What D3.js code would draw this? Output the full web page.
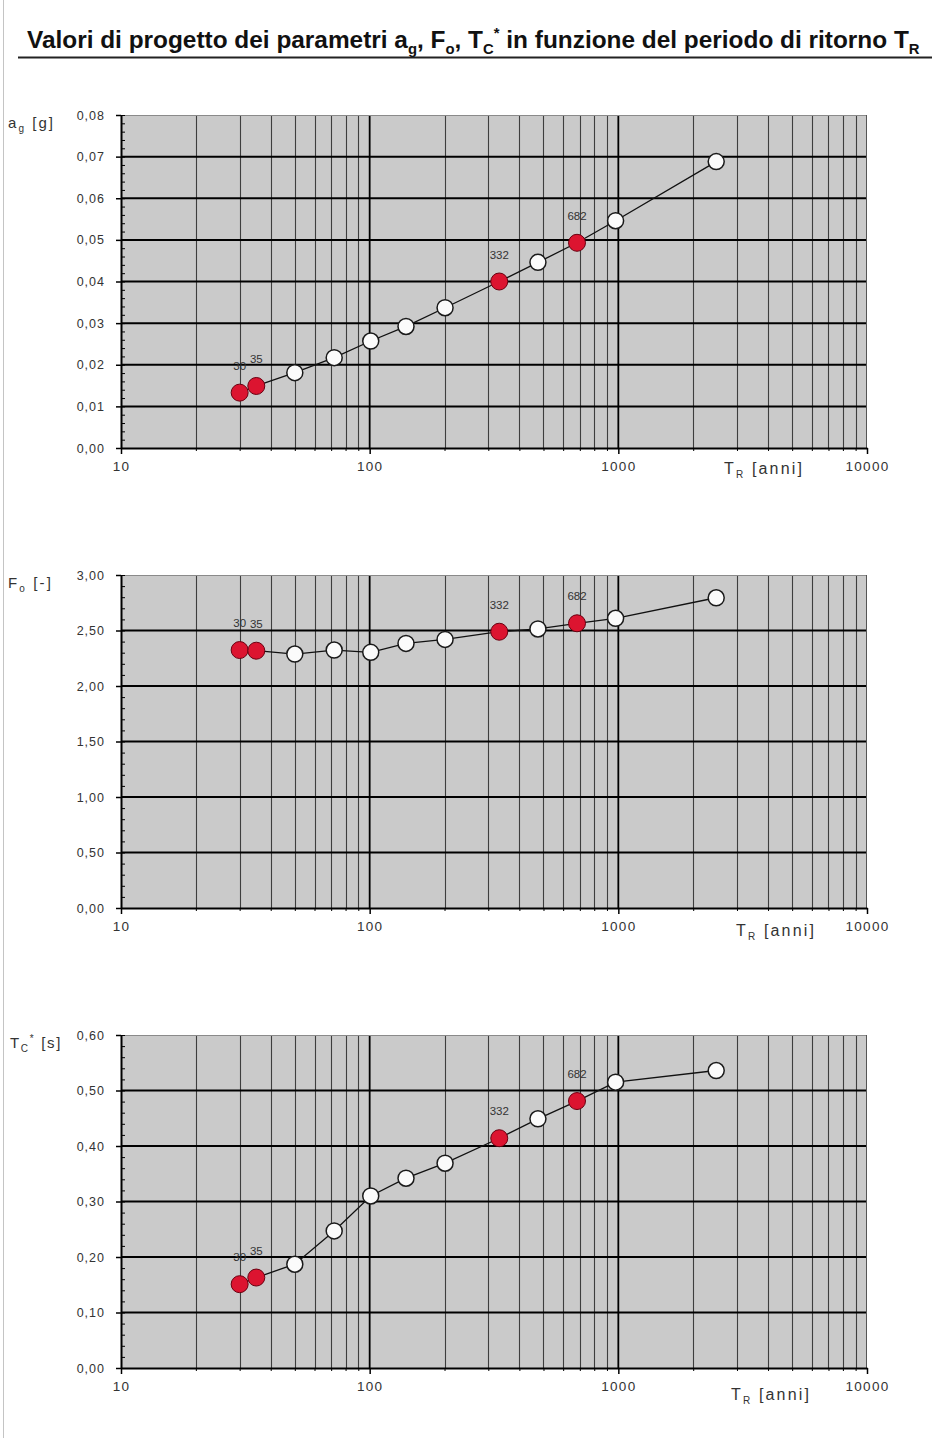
<!DOCTYPE html>
<html><head><meta charset="utf-8">
<script src="https://cdn.jsdelivr.net/npm/d3@7"></script>
<style>body{margin:0;background:#fff}svg{display:block}</style>
</head><body>
<script>
// ---- data ----
const returnPeriods = [30, 35, 50, 72, 101, 140, 201, 332, 475, 682, 975, 2475];
const agValues = [0.0133, 0.0149, 0.0181, 0.0217, 0.0257, 0.0292, 0.0337, 0.0400, 0.0446, 0.0493, 0.0546, 0.0688];
const foValues = [2.324, 2.318, 2.288, 2.324, 2.303, 2.384, 2.420, 2.489, 2.514, 2.565, 2.610, 2.795];
const tcValues = [0.151, 0.163, 0.187, 0.247, 0.310, 0.342, 0.369, 0.414, 0.449, 0.481, 0.515, 0.536];
const highlighted = [30, 35, 332, 682];
const xTickValues = [10, 100, 1000, 10000];
const xTickLabels = ["10", "100", "1000", "10000"];
const agTickValues = [0, 0.01, 0.02, 0.03, 0.04, 0.05, 0.06, 0.07, 0.08];
const agTickLabels = ["0,00", "0,01", "0,02", "0,03", "0,04", "0,05", "0,06", "0,07", "0,08"];
const foTickValues = [0, 0.5, 1, 1.5, 2, 2.5, 3];
const foTickLabels = ["0,00", "0,50", "1,00", "1,50", "2,00", "2,50", "3,00"];
const tcTickValues = [0, 0.1, 0.2, 0.3, 0.4, 0.5, 0.6];
const tcTickLabels = ["0,00", "0,10", "0,20", "0,30", "0,40", "0,50", "0,60"];

const W = 952, H = 1438;
const FONT = "'Liberation Sans', Arial, sans-serif";
const svg = d3.select("body").append("svg").attr("width", W).attr("height", H);
svg.append("rect").attr("width", W).attr("height", H).attr("fill", "#fff");
svg.append("line").attr("x1", 3.5).attr("x2", 3.5).attr("y1", 0).attr("y2", H)
  .attr("stroke", "#c4c4c4").attr("stroke-width", 1);

function addPieces(t, pieces, subSize, base) {
  let shift = 0;
  pieces.forEach(p => {
    const target = p.k === "sub" ? base * 0.28 : p.k === "sup" ? -base * 0.42 : 0;
    const ts = t.append("tspan").text(p.s).attr("dy", target - shift);
    if (p.k) ts.attr("font-size", subSize);
    shift = target;
  });
}
function fitSpacing(t, target) {
  const w = t.node().getComputedTextLength();
  const n = t.text().length;
  t.style("letter-spacing", ((target - w) / n) + "px");
}
function fitScale(t, x0, target) {
  const w = t.node().getComputedTextLength();
  t.attr("transform", `translate(${x0},0) scale(${target / w},1) translate(${-x0},0)`);
}

// ---- title ----
const title = svg.append("text").attr("x", 27).attr("y", 48)
  .attr("font-family", "'Liberation Sans Narrow', 'Liberation Sans', Arial, sans-serif")
  .attr("font-weight", "bold").attr("font-size", 23).attr("fill", "#111");
addPieces(title, [
  {s: "Valori di progetto dei parametri a"}, {s: "g", k: "sub"}, {s: ", F"}, {s: "o", k: "sub"},
  {s: ", T"}, {s: "C", k: "sub"}, {s: "*", k: "sup"}, {s: " in funzione del periodo di ritorno T"},
  {s: "R", k: "sub"}
], 14, 23);
fitScale(title, 27, 893);
svg.append("line").attr("x1", 18).attr("x2", 932).attr("y1", 57.5).attr("y2", 57.5)
  .attr("stroke", "#222").attr("stroke-width", 2);

// ---- panels ----
const x = d3.scaleLog().domain([10, 10000]).range([121, 867]);
const PH = 333;
const panels = [
  {top: 115, values: agValues, tv: agTickValues, tl: agTickLabels, minor: 0.002,
   ytitle: [{s: "a"}, {s: "g", k: "sub"}, {s: " [g]"}], ytx: 8, ytw: 47, xTitleX: 724, xTitleY: 474},
  {top: 575, values: foValues, tv: foTickValues, tl: foTickLabels, minor: 0.1,
   ytitle: [{s: "F"}, {s: "o", k: "sub"}, {s: " [-]"}], ytx: 8, ytw: 45, xTitleX: 736, xTitleY: 936},
  {top: 1035, values: tcValues, tv: tcTickValues, tl: tcTickLabels, minor: 0.02,
   ytitle: [{s: "T"}, {s: "C", k: "sub"}, {s: "*", k: "sup"}, {s: " [s]"}], ytx: 10, ytw: 52, xTitleX: 731, xTitleY: 1400}
];

const minorX = [];
[10, 100, 1000].forEach(d => { for (let k = 2; k <= 9; k++) minorX.push(k * d); });

panels.forEach(p => {
  const bottom = p.top + PH;
  const ymax = p.tv[p.tv.length - 1];
  const y = d3.scaleLinear().domain([0, ymax]).range([bottom, p.top]);
  const g = svg.append("g");

  g.append("rect").attr("x", x(10)).attr("y", p.top).attr("width", x(10000) - x(10)).attr("height", PH)
    .attr("fill", "#cacaca");

  g.selectAll(".vmin").data(minorX).join("line")
    .attr("x1", d => Math.round(x(d)) + 0.5).attr("x2", d => Math.round(x(d)) + 0.5)
    .attr("y1", p.top).attr("y2", bottom).attr("stroke", "#3e3e3e").attr("stroke-width", 1.1);
  g.selectAll(".hmaj").data(p.tv.slice(1, -1)).join("line")
    .attr("x1", x(10)).attr("x2", x(10000)).attr("y1", d => y(d)).attr("y2", d => y(d))
    .attr("stroke", "#000").attr("stroke-width", 2);
  g.selectAll(".vmaj").data([100, 1000]).join("line")
    .attr("x1", d => x(d)).attr("x2", d => x(d)).attr("y1", p.top).attr("y2", bottom)
    .attr("stroke", "#000").attr("stroke-width", 1.8);
  g.append("line").attr("x1", x(10)).attr("x2", x(10000)).attr("y1", p.top + 0.5).attr("y2", p.top + 0.5)
    .attr("stroke", "#8a8a8a").attr("stroke-width", 1);
  g.append("line").attr("x1", x(10000) - 0.5).attr("x2", x(10000) - 0.5).attr("y1", p.top).attr("y2", bottom)
    .attr("stroke", "#555").attr("stroke-width", 1);

  const minorVals = d3.range(0, ymax + p.minor / 2, p.minor);
  const lm = g.append("g").attr("transform", `translate(${x(10)},0)`)
    .call(d3.axisLeft(y).tickValues(minorVals).tickSize(-4).tickSizeOuter(0).tickFormat(""));
  lm.select(".domain").remove();
  lm.selectAll("line").attr("stroke", "#000").attr("stroke-width", 1);

  const la = g.append("g").attr("transform", `translate(${x(10)},0)`)
    .call(d3.axisLeft(y).tickValues(p.tv).tickSize(5).tickSizeOuter(0).tickPadding(11)
      .tickFormat((d, i) => p.tl[i]));
  la.select(".domain").attr("stroke", "#000").attr("stroke-width", 2);
  la.selectAll("line").attr("stroke", "#000").attr("stroke-width", 1.5);
  la.selectAll("text").attr("font-family", FONT).attr("font-size", 12.5).attr("fill", "#333")
    .style("letter-spacing", "1px");

  const bm = g.append("g").attr("transform", `translate(0,${bottom})`)
    .call(d3.axisBottom(x).tickValues(minorX).tickSize(3).tickSizeOuter(0).tickFormat(""));
  bm.select(".domain").remove();
  bm.selectAll("line").attr("stroke", "#000").attr("stroke-width", 1);

  const ba = g.append("g").attr("transform", `translate(0,${bottom})`)
    .call(d3.axisBottom(x).tickValues(xTickValues).tickSize(6).tickSizeOuter(0).tickPadding(7)
      .tickFormat((d, i) => xTickLabels[i]));
  ba.select(".domain").attr("stroke", "#000").attr("stroke-width", 2);
  ba.selectAll("line").attr("stroke", "#000").attr("stroke-width", 1.5);
  ba.selectAll("text").attr("font-family", FONT).attr("font-size", 13.5).attr("fill", "#333")
    .style("letter-spacing", "1.3px");

  const yt = g.append("text").attr("x", p.ytx).attr("y", p.top + 13)
    .attr("font-family", FONT).attr("font-size", 15).attr("fill", "#333");
  addPieces(yt, p.ytitle, 10, 15);
  fitSpacing(yt, p.ytw);

  const xt = g.append("text").attr("x", p.xTitleX).attr("y", p.xTitleY)
    .attr("font-family", FONT).attr("font-size", 16).attr("fill", "#333");
  addPieces(xt, [{s: "T"}, {s: "R", k: "sub"}, {s: " [anni]"}], 10, 16);
  fitSpacing(xt, 80);

  const pts = returnPeriods.map((t, i) => ({t, v: p.values[i], hi: highlighted.includes(t)}));
  g.append("path").datum(pts)
    .attr("d", d3.line().x(d => x(d.t)).y(d => y(d.v)))
    .attr("fill", "none").attr("stroke", "#111").attr("stroke-width", 1.3);
  g.selectAll(".pt").data(pts).join("circle")
    .attr("cx", d => x(d.t)).attr("cy", d => y(d.v)).attr("r", d => d.hi ? 8.5 : 8)
    .attr("fill", d => d.hi ? "#dc1430" : "#fbfbfb")
    .attr("stroke", d => d.hi ? "#6a0010" : "#1a1a1a").attr("stroke-width", d => d.hi ? 1 : 1.5);
  g.selectAll(".lbl").data(pts.filter(d => d.hi)).join("text")
    .attr("x", d => x(d.t)).attr("y", d => y(d.v) - 23).attr("text-anchor", "middle")
    .attr("font-family", FONT).attr("font-size", 11.5).attr("fill", "#333")
    .text(d => d.t);
});
</script>
</body></html>
